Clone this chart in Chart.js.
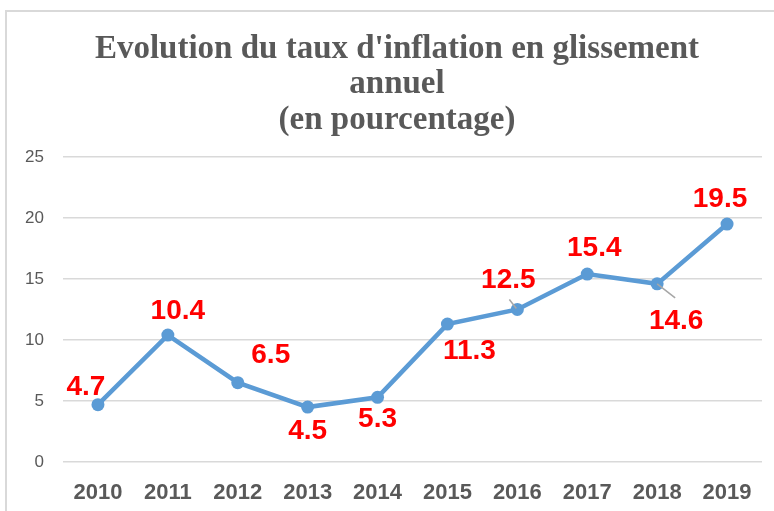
<!DOCTYPE html>
<html>
<head>
<meta charset="utf-8">
<script src="https://cdn.jsdelivr.net/npm/chart.js@4/dist/chart.umd.min.js"></script>
<style>
  html, body { margin: 0; padding: 0; background: #fff; overflow: hidden; }
  #wrap { position: relative; width: 774px; height: 511px; overflow: hidden; }
  #frame {
    position: absolute; left: 5px; top: 10px; right: 0; bottom: 0;
    border-top: 2px solid #d9d9d9; border-left: 2px solid #d9d9d9;
    pointer-events: none;
  }
</style>
</head>
<body>
<div id="wrap">
  <canvas id="chart" width="774" height="511"></canvas>
  <div id="frame"></div>
</div>
<script>
// Données
const years = ['2010', '2011', '2012', '2013', '2014', '2015', '2016', '2017', '2018', '2019'];
const inflation = [4.7, 10.4, 6.5, 4.5, 5.3, 11.3, 12.5, 15.4, 14.6, 19.5];
const titleLines = ["Evolution du taux d'inflation en glissement", 'annuel', '(en pourcentage)'];
const yMin = 0;
const yMax = 25;
const yStep = 5;

// Position des étiquettes par rapport au point (dx, dy) + trait de rappel
const labelOffsets = [
    [-12, -17], [10, -24], [33, -27], [0, 24], [0, 22],
    [22, 27], [-9, -29], [7, -26], [19, 37], [-7, -25]
];
const leaderLines = [null, null, null, null, null, null,
    [[-8, -10], [-1, -1]], null, [[0, 0], [18, 14]], null];

// Plugin pour les étiquettes de données
const dataLabels = {
    id: 'dataLabels',
    afterDatasetsDraw(chart) {
        const ctx = chart.ctx;
        const meta = chart.getDatasetMeta(0);
        ctx.save();
        meta.data.forEach((pt, i) => {
            const lead = leaderLines[i];
            if (lead) {
                ctx.strokeStyle = '#a6a6a6';
                ctx.lineWidth = 1.5;
                ctx.beginPath();
                ctx.moveTo(pt.x + lead[0][0], pt.y + lead[0][1]);
                ctx.lineTo(pt.x + lead[1][0], pt.y + lead[1][1]);
                ctx.stroke();
            }
            ctx.fillStyle = '#ff0000';
            ctx.font = 'bold 28px "Liberation Sans", Arial, sans-serif';
            ctx.textAlign = 'center';
            ctx.textBaseline = 'middle';
            ctx.fillText(String(inflation[i]), pt.x + labelOffsets[i][0], pt.y + labelOffsets[i][1]);
        });
        ctx.restore();
    }
};

new Chart(document.getElementById('chart'), {
    type: 'line',
    data: {
        labels: years,
        datasets: [{
            data: inflation,
            borderColor: '#5b9bd5',
            backgroundColor: '#5b9bd5',
            borderWidth: 4.5,
            pointRadius: 6.5,
            pointBackgroundColor: '#5b9bd5',
            pointBorderWidth: 0,
            tension: 0,
            fill: false
        }]
    },
    options: {
        responsive: false,
        animation: false,
        devicePixelRatio: 1,
        // décalage à gauche pour centrer le titre comme dans l'original
        layout: { padding: { left: 20, right: 0, top: 0, bottom: 7 } },
        plugins: {
            legend: { display: false },
            tooltip: { enabled: false },
            title: {
                display: true,
                text: titleLines,
                color: '#595959',
                font: { family: '"Liberation Serif", "Times New Roman", serif', size: 33, weight: 'bold', lineHeight: 1.07 },
                padding: { top: 32, bottom: 19 }
            }
        },
        scales: {
            x: {
                offset: true,
                grid: { display: false, drawTicks: false },
                border: { display: false },
                ticks: {
                    color: '#595959',
                    padding: 18,
                    font: { family: '"Liberation Sans", Arial, sans-serif', size: 22, weight: 'bold' }
                },
                afterFit(scale) { scale.height = 42; }
            },
            y: {
                min: yMin,
                max: yMax,
                grid: { color: '#d9d9d9', lineWidth: 1.5, drawTicks: false },
                border: { display: false },
                ticks: {
                    stepSize: yStep,
                    color: '#595959',
                    padding: 19,
                    font: { family: '"Liberation Sans", Arial, sans-serif', size: 17 }
                },
                afterFit(scale) { scale.width = 43; }
            },
            // axe vide à droite : marge entre la zone de tracé et le bord
            yRight: {
                position: 'right',
                min: yMin,
                max: yMax,
                grid: { display: false, drawTicks: false },
                border: { display: false },
                ticks: { display: false },
                afterFit(scale) { scale.width = 12; }
            }
        }
    },
    plugins: [dataLabels]
});
</script>
</body>
</html>
